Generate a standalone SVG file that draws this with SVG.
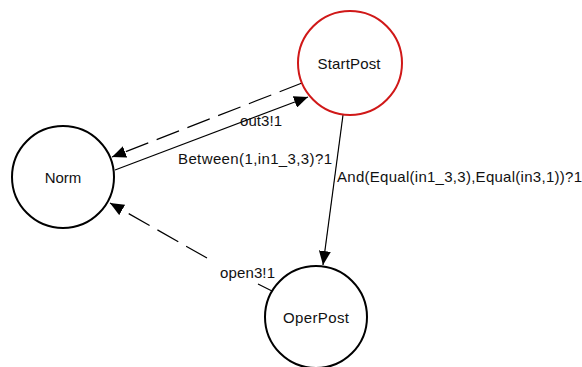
<svg xmlns="http://www.w3.org/2000/svg" width="582" height="367" viewBox="0 0 582 367">
<style>
.node{fill:#fff;stroke:#000;stroke-width:2}
.start{stroke:#d01818}
.lbl{font-family:"Liberation Sans",Arial,sans-serif;font-size:15px;fill:#111}
.ctr{text-anchor:middle}
.edge{fill:none;stroke:#000;stroke-width:1.2}
.dash{stroke-dasharray:24 9}
</style>
<defs>
<marker id="arr" viewBox="0 0 14 12" refX="14" refY="6" markerWidth="14" markerHeight="12" markerUnits="userSpaceOnUse" orient="auto">
<path d="M0,0 L14,6 L0,12 Z" fill="#000"/>
</marker>
</defs>
<rect width="582" height="367" fill="#fff"/>
<g id="connectors">
<path class="edge" d="M115,170 L308,97" marker-end="url(#arr)"/>
<path class="edge dash" d="M302,83 L112,157" marker-end="url(#arr)"/>
<path class="edge" d="M343,115 L323,265" marker-end="url(#arr)"/>
<path class="edge dash" d="M272,291 L258,284 M207,258 L110,203" marker-end="url(#arr)"/>
<text class="lbl" x="240" y="126" textLength="42">out3!1</text>
<text class="lbl" x="178" y="164" textLength="154">Between(1,in1_3,3)?1</text>
<text class="lbl" x="337" y="182" textLength="245">And(Equal(in1_3,3),Equal(in3,1))?1</text>
<text class="lbl" x="220" y="278" textLength="55">open3!1</text>
</g>
<g id="Norm">
<circle class="node" cx="63" cy="177" r="51"/>
<text class="lbl ctr" x="63" y="183">Norm</text>
</g>
<g id="StartPost">
<circle class="node start" cx="350" cy="63" r="52"/>
<text class="lbl ctr" x="349" y="69" textLength="63">StartPost</text>
</g>
<g id="OperPost">
<circle class="node" cx="316" cy="317" r="51"/>
<text class="lbl ctr" x="316" y="323" textLength="66">OperPost</text>
</g>
</svg>
